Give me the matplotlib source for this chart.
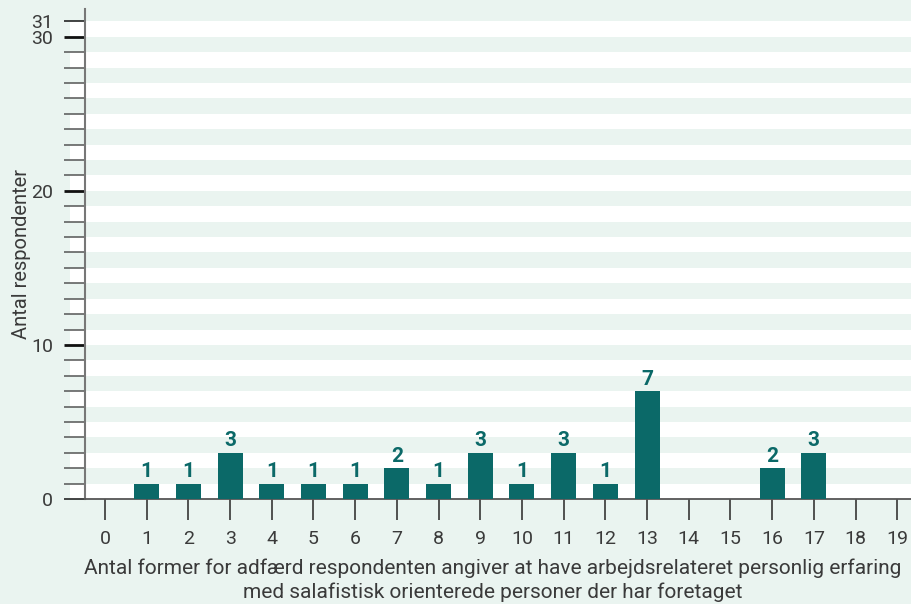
import matplotlib.pyplot as plt
from matplotlib.ticker import MultipleLocator, FixedLocator

# data
antal_former = list(range(0, 20))
respondenter = [0, 1, 1, 3, 1, 1, 1, 2, 1, 3, 1, 3, 1, 7, 0, 0, 2, 3, 0, 0]
y_labels = [0, 10, 20, 30, 31]

bg = '#eaf4f0'
teal = '#0b6968'
txt = '#3a3a3a'

plt.rcParams['font.family'] = ['Roboto', 'DejaVu Sans']

fig = plt.figure(figsize=(9.11, 6.04), dpi=100, facecolor=bg)
ax = fig.add_axes([85 / 911, 105 / 604, 826 / 911, 490 / 604])
ax.set_facecolor(bg)

# white stripes every other unit, reaching a bit left of the spine
for k in range(0, 31, 2):
    ax.axhspan(k, k + 1, xmin=-15 / 826, xmax=1, facecolor='white',
               edgecolor='none', clip_on=False, zorder=0)

ax.bar(antal_former, respondenter, width=0.6, color=teal, zorder=3)
for x, v in zip(antal_former, respondenter):
    if v > 0:
        ax.text(x, v + 0.15, str(v), ha='center', va='bottom', color=teal,
                fontsize=15, fontweight='bold', zorder=4)

ax.set_xlim(-0.48, 19.33)
ax.set_ylim(0, 31.8)

ax.set_xticks(antal_former)
ax.yaxis.set_major_locator(FixedLocator(y_labels))
ax.yaxis.set_minor_locator(MultipleLocator(1))

ax.tick_params(axis='x', length=15, width=1.3, color='#444444', pad=7,
               labelsize=14, labelcolor=txt)
ax.tick_params(axis='y', which='major', length=15, width=2, color='#111111',
               pad=8, labelsize=14, labelcolor=txt)
ax.tick_params(axis='y', which='minor', length=15, width=1.1, color='#555555')
# the 0 and 31 ticks are drawn thin
for i, t in enumerate(ax.yaxis.get_major_ticks()):
    if y_labels[i] in (0, 31):
        t.tick1line.set_markeredgewidth(1.1)
        t.tick1line.set_color('#555555')

for s in ['top', 'right']:
    ax.spines[s].set_visible(False)
ax.spines['left'].set_color('#777777')
ax.spines['left'].set_linewidth(1.5)
ax.spines['bottom'].set_color('#555555')
ax.spines['bottom'].set_linewidth(1.3)

ax.set_ylabel('Antal respondenter', fontsize=14.5, color=txt)
ax.yaxis.set_label_coords(-54 / 826, 0.5)
ax.set_xlabel('Antal former for adfærd respondenten angiver at have arbejdsrelateret personlig erfaring\n'
              'med salafistisk orienterede personer der har foretaget',
              fontsize=15, color=txt, linespacing=1.32)
ax.xaxis.set_label_coords(408 / 826, -59 / 490)

fig.savefig('out.png', dpi=100, facecolor=bg)
